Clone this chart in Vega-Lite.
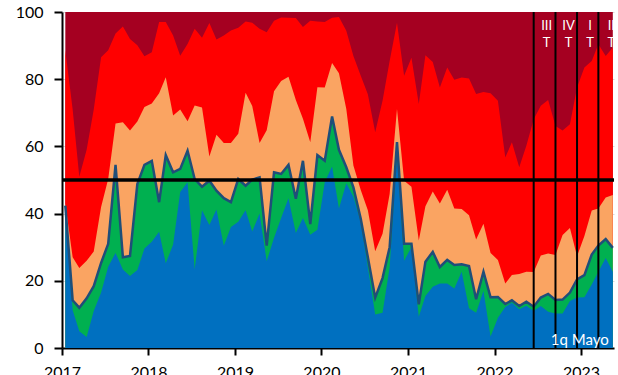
{
  "$schema": "https://vega.github.io/schema/vega-lite/v6.json",
  "autosize": "none",
  "width": 552,
  "height": 336,
  "padding": {"left": 62, "top": 12, "right": 4, "bottom": 27},
  "background": "white",
  "config": {
    "view": {"stroke": null},
    "font": "Lato",
    "axis": {"labelFont": "Lato", "labelFontSize": 16, "labelColor": "#000000", "domainColor": "#000000", "tickColor": "#000000", "domainWidth": 2, "tickWidth": 2, "tickSize": 8, "title": null}
  },
  "datasets": {
    "series": [
      {"date": "2017-01-15", "B": 42, "G": 42.4, "O": 43, "R": 88.6},
      {"date": "2017-02-15", "B": 11.2, "G": 14.2, "O": 27, "R": 71},
      {"date": "2017-03-15", "B": 5, "G": 12, "O": 23.8, "R": 51},
      {"date": "2017-04-15", "B": 3.3, "G": 14.8, "O": 26, "R": 59},
      {"date": "2017-05-15", "B": 11, "G": 18.4, "O": 28.7, "R": 71},
      {"date": "2017-06-15", "B": 16.5, "G": 25.3, "O": 42, "R": 86.5},
      {"date": "2017-07-15", "B": 24.2, "G": 31, "O": 50.3, "R": 88.6},
      {"date": "2017-08-15", "B": 28.3, "G": 54.5, "O": 66.8, "R": 93.6},
      {"date": "2017-09-15", "B": 23.4, "G": 27, "O": 67.2, "R": 95.7},
      {"date": "2017-10-15", "B": 21.4, "G": 27.4, "O": 64.7, "R": 92},
      {"date": "2017-11-15", "B": 23.2, "G": 48.8, "O": 67.4, "R": 90.1},
      {"date": "2017-12-15", "B": 29.6, "G": 54.5, "O": 71.7, "R": 86.8},
      {"date": "2018-01-15", "B": 31.6, "G": 55.7, "O": 72.8, "R": 88},
      {"date": "2018-02-15", "B": 34.6, "G": 43.4, "O": 75.8, "R": 97},
      {"date": "2018-03-15", "B": 25.2, "G": 57.4, "O": 80.6, "R": 97},
      {"date": "2018-04-15", "B": 30.8, "G": 52.3, "O": 69.2, "R": 93},
      {"date": "2018-05-15", "B": 46.4, "G": 53.3, "O": 71, "R": 87},
      {"date": "2018-06-15", "B": 49.3, "G": 58.7, "O": 67.5, "R": 90.5},
      {"date": "2018-07-15", "B": 23.4, "G": 50.3, "O": 72.2, "R": 95},
      {"date": "2018-08-15", "B": 41, "G": 48, "O": 71.6, "R": 92.3},
      {"date": "2018-09-15", "B": 36.6, "G": 49.8, "O": 57, "R": 96.7},
      {"date": "2018-10-15", "B": 41.2, "G": 46.8, "O": 63.5, "R": 91.8},
      {"date": "2018-11-15", "B": 30.4, "G": 44.6, "O": 61, "R": 93},
      {"date": "2018-12-15", "B": 36, "G": 43.4, "O": 61, "R": 94.5},
      {"date": "2019-01-15", "B": 37.6, "G": 50.3, "O": 63.8, "R": 95.3},
      {"date": "2019-02-15", "B": 41, "G": 48.3, "O": 76, "R": 97.2},
      {"date": "2019-03-15", "B": 34.7, "G": 50.1, "O": 72, "R": 96.8},
      {"date": "2019-04-15", "B": 40, "G": 50.8, "O": 61, "R": 95},
      {"date": "2019-05-15", "B": 25.8, "G": 30.5, "O": 64.8, "R": 94},
      {"date": "2019-06-15", "B": 32.8, "G": 52.3, "O": 76.4, "R": 97.4},
      {"date": "2019-07-15", "B": 38.7, "G": 51.8, "O": 79.5, "R": 98.4},
      {"date": "2019-08-15", "B": 44.6, "G": 54.5, "O": 80.7, "R": 98.3},
      {"date": "2019-09-15", "B": 34.2, "G": 44.4, "O": 73.8, "R": 98.2},
      {"date": "2019-10-15", "B": 38.7, "G": 55.7, "O": 68.2, "R": 95.5},
      {"date": "2019-11-15", "B": 33.7, "G": 36.9, "O": 61.2, "R": 97.4},
      {"date": "2019-12-15", "B": 35.2, "G": 57.4, "O": 77.6, "R": 97.2},
      {"date": "2020-01-15", "B": 49.3, "G": 55.7, "O": 77.5, "R": 97},
      {"date": "2020-02-15", "B": 54, "G": 68.9, "O": 84.8, "R": 98.3},
      {"date": "2020-03-15", "B": 41.5, "G": 59, "O": 81.8, "R": 98.5},
      {"date": "2020-04-15", "B": 49, "G": 53.8, "O": 71.1, "R": 94.4},
      {"date": "2020-05-15", "B": 45, "G": 47.8, "O": 54.3, "R": 86.9},
      {"date": "2020-06-15", "B": 37.5, "G": 38.5, "O": 47, "R": 81},
      {"date": "2020-07-15", "B": 24, "G": 27, "O": 41, "R": 75.5},
      {"date": "2020-08-15", "B": 10, "G": 15, "O": 28.8, "R": 64.2},
      {"date": "2020-09-15", "B": 10.5, "G": 20.8, "O": 34, "R": 73.6},
      {"date": "2020-10-15", "B": 24, "G": 30, "O": 45.8, "R": 85.4},
      {"date": "2020-11-15", "B": 58, "G": 61.3, "O": 71.1, "R": 96.8},
      {"date": "2020-12-15", "B": 26, "G": 31, "O": 49.8, "R": 81},
      {"date": "2021-01-15", "B": 30, "G": 31, "O": 48, "R": 86.4},
      {"date": "2021-02-15", "B": 9.3, "G": 13, "O": 32, "R": 72.6},
      {"date": "2021-03-15", "B": 15.5, "G": 25.7, "O": 42.2, "R": 87.1},
      {"date": "2021-04-15", "B": 18.2, "G": 28.6, "O": 46.6, "R": 85.1},
      {"date": "2021-05-15", "B": 19.2, "G": 24.1, "O": 43, "R": 77.5},
      {"date": "2021-06-15", "B": 19.2, "G": 26.2, "O": 47.1, "R": 83.5},
      {"date": "2021-07-15", "B": 17.7, "G": 24.7, "O": 41.5, "R": 79.8},
      {"date": "2021-08-15", "B": 22.7, "G": 24.9, "O": 41.4, "R": 80.5},
      {"date": "2021-09-15", "B": 11.8, "G": 24.4, "O": 39.5, "R": 80.2},
      {"date": "2021-10-15", "B": 10.5, "G": 14.5, "O": 32.3, "R": 75.6},
      {"date": "2021-11-15", "B": 17, "G": 22.7, "O": 37, "R": 76.2},
      {"date": "2021-12-15", "B": 3.4, "G": 15.1, "O": 28.3, "R": 75.8},
      {"date": "2022-01-15", "B": 9, "G": 15.2, "O": 26.2, "R": 73.6},
      {"date": "2022-02-15", "B": 12.2, "G": 13.1, "O": 19.2, "R": 56.7},
      {"date": "2022-03-15", "B": 13.5, "G": 14.2, "O": 21.7, "R": 61.2},
      {"date": "2022-04-15", "B": 11.5, "G": 12.5, "O": 22, "R": 53.8},
      {"date": "2022-05-15", "B": 12.6, "G": 13.8, "O": 22.7, "R": 60.2},
      {"date": "2022-06-15", "B": 11, "G": 12.3, "O": 22.6, "R": 68.1},
      {"date": "2022-07-15", "B": 12.5, "G": 15, "O": 27.5, "R": 72.1},
      {"date": "2022-08-15", "B": 10.8, "G": 16.1, "O": 28.1, "R": 73.8},
      {"date": "2022-09-15", "B": 10.3, "G": 14.3, "O": 27.7, "R": 66.1},
      {"date": "2022-10-15", "B": 10.3, "G": 14.4, "O": 33.6, "R": 64.7},
      {"date": "2022-11-15", "B": 14, "G": 16.5, "O": 35.7, "R": 66.6},
      {"date": "2022-12-15", "B": 15, "G": 20.4, "O": 27.3, "R": 77.5},
      {"date": "2023-01-15", "B": 15.1, "G": 21.7, "O": 33.3, "R": 83.5},
      {"date": "2023-02-15", "B": 18.9, "G": 27.8, "O": 40.9, "R": 85.4},
      {"date": "2023-03-15", "B": 22.7, "G": 30.5, "O": 41.5, "R": 90.4},
      {"date": "2023-04-15", "B": 26.8, "G": 32.4, "O": 44.8, "R": 86.9},
      {"date": "2023-05-15", "B": 22.7, "G": 29.8, "O": 45.5, "R": 89.4}
    ],
    "quarters": [
      {"d": "2022-06-15", "q": "III\nT"},
      {"d": "2022-09-15", "q": "IV\nT"},
      {"d": "2022-12-15", "q": "I\nT"},
      {"d": "2023-03-15", "q": "II\nT"}
    ]
  },
  "encoding": {
    "x": {
      "field": "date", "type": "temporal",
      "scale": {"domain": [{"year": 2017, "month": 1, "date": 1}, {"year": 2023, "month": 5, "date": 20}]},
      "axis": {"format": "%Y", "tickCount": {"interval": "year", "step": 1}, "grid": false, "labelPadding": 9, "labelBaseline": "top", "labelFlush": false, "tickSize": 7}
    }
  },
  "layer": [
    {
      "data": {"name": "series"},
      "mark": {"type": "area", "color": "#A50021"},
      "encoding": {
        "y": {"datum": 100, "type": "quantitative", "scale": {"domain": [0, 100], "nice": false},
          "axis": {"values": [0, 20, 40, 60, 80, 100], "grid": true, "gridColor": "#d9d9d9", "gridWidth": 1, "labelPadding": 11}}
      }
    },
    {
      "data": {"name": "series"},
      "mark": {"type": "area", "color": "#FF0000"},
      "encoding": {"y": {"field": "R", "type": "quantitative"}}
    },
    {
      "data": {"name": "series"},
      "mark": {"type": "area", "color": "#FAA462"},
      "encoding": {"y": {"field": "O", "type": "quantitative"}}
    },
    {
      "data": {"name": "series"},
      "mark": {"type": "area", "color": "#00B050"},
      "encoding": {"y": {"field": "G", "type": "quantitative"}}
    },
    {
      "data": {"name": "series"},
      "mark": {"type": "area", "color": "#0070C0"},
      "encoding": {"y": {"field": "B", "type": "quantitative"}}
    },
    {
      "data": {"name": "series"},
      "mark": {"type": "line", "color": "#1F4E79", "strokeWidth": 2.5},
      "encoding": {"y": {"field": "G", "type": "quantitative"}}
    },
    {
      "data": {"name": "quarters"},
      "mark": {"type": "rule", "color": "#000000", "strokeWidth": 2},
      "encoding": {"x": {"field": "d", "type": "temporal"}}
    },
    {
      "data": {"values": [{"ref": 50}]},
      "mark": {"type": "rule", "color": "#000000", "strokeWidth": 3.5},
      "encoding": {"x": null, "y": {"field": "ref", "type": "quantitative"}}
    },
    {
      "data": {"name": "quarters"},
      "mark": {"type": "text", "color": "#ffffff", "fontSize": 13, "font": "Lato", "lineBreak": "\n", "lineHeight": 17, "baseline": "top", "align": "center", "dx": 13, "dy": 8},
      "encoding": {
        "x": {"field": "d", "type": "temporal"},
        "y": {"datum": 100, "type": "quantitative"},
        "text": {"field": "q"}
      }
    },
    {
      "data": {"values": [{"d": "2023-05-15", "label": "1q Mayo"}]},
      "mark": {"type": "text", "color": "#ffffff", "fontSize": 15, "font": "Lato", "align": "right", "baseline": "alphabetic", "dx": -4, "dy": -3},
      "encoding": {
        "x": {"field": "d", "type": "temporal"},
        "y": {"datum": 0, "type": "quantitative"},
        "text": {"field": "label"}
      }
    }
  ]
}
